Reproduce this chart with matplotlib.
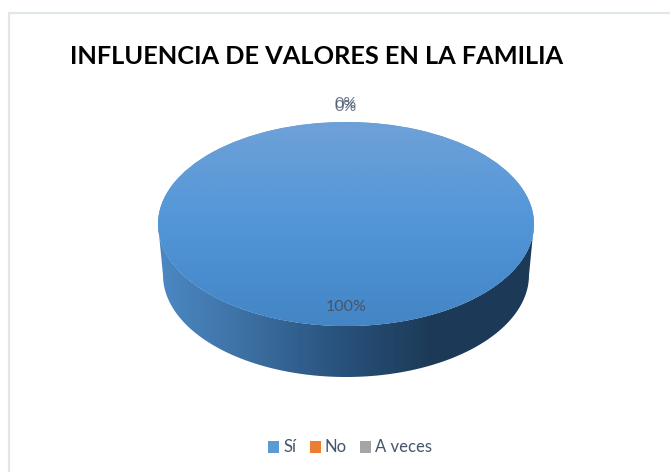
import numpy as np
import matplotlib
matplotlib.use("Agg")
import matplotlib.pyplot as plt
from matplotlib.colors import LinearSegmentedColormap
from matplotlib.path import Path
from matplotlib.patches import PathPatch, Rectangle

title = "INFLUENCIA DE VALORES EN LA FAMILIA"
categories = ["Sí", "No", "A veces"]
values = [100, 0, 0]
colors = ["#5B9BD5", "#ED7D31", "#A5A5A5"]

W, H = 670, 472
fig = plt.figure(figsize=(W / 100, H / 100), dpi=100, facecolor="white")
bg = fig.add_axes([0, 0, 1, 1])
bg.set_xlim(0, W)
bg.set_ylim(H, 0)
bg.axis("off")

# chart frame
bg.plot([8.5, 8.5, W], [H, 12.5, 12.5], color="#E1E6EB", lw=1.6, solid_capstyle="butt")

# side wall of the 3-D pie
cx, cy, rx, ry = 346, 224, 188, 102
by, brx = 275, 183
t = np.linspace(np.pi, 0, 200)
top_edge = np.column_stack([cx + rx * np.cos(t), cy + ry * np.sin(t)])
bot_edge = np.column_stack([cx + brx * np.cos(t), by + ry * np.sin(t)])
wall = np.vstack([top_edge, bot_edge[::-1]])
wall_path = Path(np.vstack([wall, wall[0]]), closed=True)
wall_cmap = LinearSegmentedColormap.from_list(
    "wall", [(0, "#4C88C4"), (0.2, "#3F74A8"), (0.5, "#27507A"),
             (0.73, "#1C3A57"), (1, "#1D3B58")])
im = bg.imshow(np.linspace(0, 1, 256)[None, :], cmap=wall_cmap, aspect="auto",
               extent=[cx - rx, cx + rx, by + ry + 2, cy - 2], zorder=2)
im.set_clip_path(PathPatch(wall_path, transform=bg.transData))
bg.set_xlim(0, W)
bg.set_ylim(H, 0)

# top face, drawn from the values
pie_ax = fig.add_axes([(cx - rx) / W, (H - cy - ry) / H, 2 * rx / W, 2 * ry / H])
wedges, _ = pie_ax.pie(values, colors=colors, startangle=90, counterclock=False, radius=1)
pie_ax.set_aspect("auto")
pie_ax.set_xlim(-1, 1)
pie_ax.set_ylim(-1, 1)
pie_ax.axis("off")
top_cmap = LinearSegmentedColormap.from_list(
    "top", [(0, "#4385C5"), (0.5, "#5296D8"), (1, "#6FA1D8")])
grad = pie_ax.imshow(np.linspace(0, 1, 256)[:, None], cmap=top_cmap, aspect="auto",
                     origin="lower", extent=[-1, 1, -1, 1], zorder=3)
grad.set_clip_path(wedges[0])

# labels
txt = fig.add_axes([0, 0, 1, 1])
txt.set_xlim(0, W)
txt.set_ylim(H, 0)
txt.axis("off")
lab_font = ["Lato", "DejaVu Sans"]
txt.text(346, 307, f"{values[0]}%", ha="center", va="center", fontsize=11.5,
         color="#44546A", family=lab_font)
txt.text(346, 104.5, f"{values[1]}%", ha="center", va="center", fontsize=11.5,
         color="#44546A", alpha=.8, family=lab_font)
txt.text(346, 107, f"{values[2]}%", ha="center", va="center", fontsize=11.5,
         color="#44546A", alpha=.8, family=lab_font)

txt.text(70, 56, title, ha="left", va="center", fontsize=18.3, fontweight="bold",
         color="black", family=lab_font)

# legend
xs = [268, 310, 360]
for x, c, name in zip(xs, colors, categories):
    txt.add_patch(Rectangle((x, 441), 11, 12, facecolor=c, edgecolor="none"))
    txt.text(x + 15, 446.5, name, ha="left", va="center", fontsize=12,
             color="#44546A", family=lab_font)

fig.savefig("out.png", dpi=100, facecolor="white")
